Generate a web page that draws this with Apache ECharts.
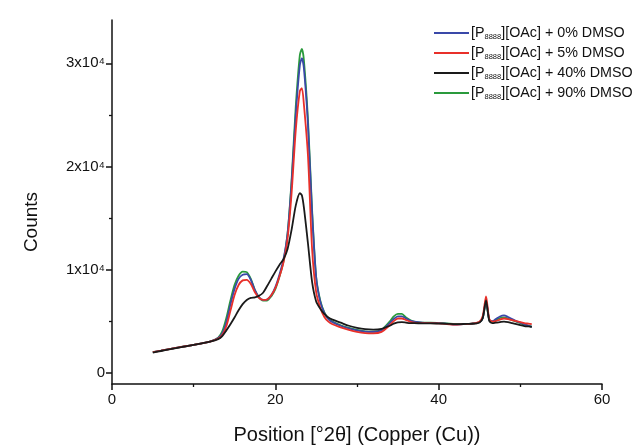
<!DOCTYPE html>
<html>
<head>
<meta charset="utf-8">
<script src="https://cdn.jsdelivr.net/npm/echarts@6/dist/echarts.min.js"></script>
<style>html,body{margin:0;padding:0;background:#fff}#c{width:638px;height:446px}</style>
</head>
<body>
<div id="c"></div>
<script>
// Diffraction angle (deg 2θ) sample positions shared by all series
const positions = [5,6,7,8,9,10,11,12,13,13.5,14,14.5,15,15.5,16,16.5,17,17.5,18,18.5,19,19.5,20,20.5,21,21.5,22,22.5,23,23.25,23.5,24,24.5,25,25.5,26,26.5,27,28,29,30,31,32,33,34,34.5,35,35.5,36,36.5,37,38,39,40,41,42,43,44,44.5,45,45.4,45.8,46.2,46.6,47,47.5,48,48.5,49,49.5,50,50.5,51,51.4];

const dmso0 = [2000,2130,2280,2420,2560,2700,2850,3000,3350,3800,4900,6600,8100,9100,9500,9550,9000,8000,7300,7050,7100,7500,8300,9500,11000,13500,18500,25000,29800,30500,29500,24000,15500,9200,6900,5800,5200,4900,4550,4300,4100,3980,3950,4100,4800,5200,5450,5450,5250,5050,4950,4850,4800,4800,4750,4650,4700,4750,4800,4900,5300,7000,5100,5000,5200,5450,5550,5400,5200,5000,4850,4700,4550,4450];

const dmso5 = [2000,2130,2280,2420,2560,2700,2850,3000,3300,3650,4500,6000,7500,8500,8950,9000,8600,7800,7250,7050,7100,7500,8200,9300,10700,13000,17500,23500,27300,27600,26000,21000,12000,7800,6300,5400,4950,4700,4400,4150,3950,3830,3800,3950,4600,5000,5250,5250,5100,4950,4850,4800,4800,4780,4720,4650,4700,4750,4800,4950,5500,7400,5200,4950,5000,5150,5250,5200,5100,5000,4900,4800,4750,4700];

const dmso40 = [1950,2100,2250,2400,2550,2700,2850,3000,3250,3550,4100,4700,5350,6050,6650,7050,7250,7300,7450,7750,8400,9100,9800,10450,11000,12000,13900,16200,17400,17200,16000,12500,8800,6900,6200,5700,5350,5150,4850,4550,4350,4220,4180,4250,4550,4750,4880,4900,4850,4800,4800,4780,4780,4760,4740,4700,4720,4740,4760,4850,5300,7000,5000,4800,4850,4900,4950,4900,4800,4700,4600,4520,4480,4450];

const dmso90 = [2000,2130,2280,2420,2560,2700,2850,3000,3400,4000,5300,7000,8500,9400,9800,9750,9100,8000,7300,7000,7000,7400,8100,9300,10800,13500,18800,25800,30800,31400,30300,24500,15800,9300,7000,5850,5250,4950,4600,4350,4150,4000,3980,4150,4950,5450,5700,5700,5350,5100,4950,4850,4850,4820,4780,4700,4720,4750,4800,4900,5300,6800,5100,4950,5100,5300,5350,5250,5100,4950,4800,4650,4550,4450];

const seriesNames = ['[P8888][OAc] + 0% DMSO','[P8888][OAc] + 5% DMSO','[P8888][OAc] + 40% DMSO','[P8888][OAc] + 90% DMSO'];
const yMajorTicks = [0,10000,20000,30000];
const yMinorTicks = [5000,15000,25000];
const xTicks = [0,20,40,60];

const pairs = arr => positions.map((x,i)=>[x,arr[i]]);
const mk = (name, arr, color) => ({
  name, type:'line', data:pairs(arr), symbol:'none', showSymbol:false, smooth:0.25,
  lineStyle:{color, width:1.8}, itemStyle:{color}, emphasis:{disabled:true}
});

const chart = echarts.init(document.getElementById('c'), null, {renderer:'canvas'});
const FONT = 'Liberation Sans, Arial, sans-serif';
chart.setOption({
  animation:false,
  textStyle:{fontFamily:FONT},
  grid:{left:112, right:36, top:20, bottom:62, containLabel:false, outerBoundsMode:'none'},
  legend:{
    data:seriesNames, orient:'vertical', left:429, top:21, icon:'rect',
    itemWidth:35, itemHeight:2, itemGap:5,
    textStyle:{fontFamily:FONT, fontSize:14.3, color:'#111', padding:[0,0,0,-3],
      rich:{sub:{fontSize:7.5, fontFamily:FONT, color:'#111', verticalAlign:'bottom', padding:[8,0,0,0]}}},
    formatter: n => n.replace('8888','{sub|8888}')
  },
  xAxis:{
    type:'value', min:0, max:60, interval:20,
    name:'Position [°2θ] (Copper (Cu))', nameLocation:'middle', nameGap:41,
    nameTextStyle:{fontFamily:FONT, fontSize:20, color:'#111'},
    axisLine:{onZero:false, lineStyle:{color:'#111', width:1.5}},
    axisTick:{show:true, length:6, lineStyle:{color:'#111', width:1.5}},
    minorTick:{show:true, splitNumber:2, length:3, lineStyle:{color:'#111', width:1.3}},
    axisLabel:{fontFamily:FONT, fontSize:15, color:'#111', margin:8,
      customValues:xTicks},
    splitLine:{show:false}
  },
  yAxis:[{
    type:'value', min:-1100, max:34200,
    name:'Counts', nameLocation:'middle', nameGap:71,
    nameTextStyle:{fontFamily:FONT, fontSize:19, color:'#111', padding:[0,40,0,0]},
    axisLine:{show:true, lineStyle:{color:'#111', width:1.5}},
    axisTick:{show:true, length:6, customValues:yMajorTicks, lineStyle:{color:'#111', width:1.5}},
    axisLabel:{fontFamily:FONT, fontSize:15, color:'#111', margin:7, customValues:yMajorTicks,
      formatter: v => v===0 ? '0' : (v/10000)+'x10⁴'},
    splitLine:{show:false}
  },{
    type:'value', min:-1100, max:34200, position:'left',
    axisLine:{show:false},
    axisTick:{show:true, length:3, customValues:yMinorTicks, lineStyle:{color:'#111', width:1.3}},
    axisLabel:{show:false, customValues:yMinorTicks},
    splitLine:{show:false}
  }],
  series:[
    mk(seriesNames[3], dmso90, '#2a9a3c'),
    mk(seriesNames[0], dmso0, '#3a48a8'),
    mk(seriesNames[1], dmso5, '#e8302a'),
    mk(seriesNames[2], dmso40, '#1a1a1a')
  ]
});
</script>
</body>
</html>
